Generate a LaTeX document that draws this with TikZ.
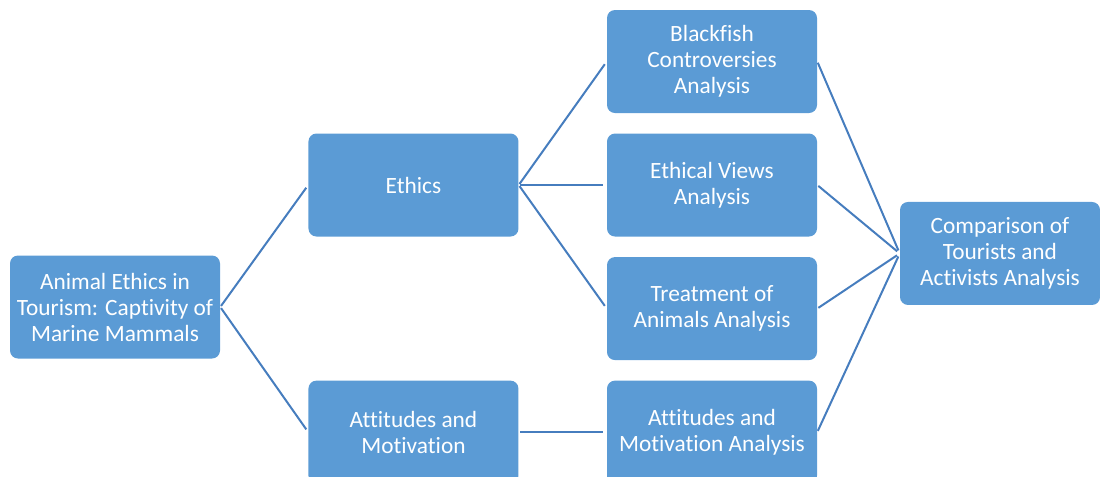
\documentclass[tikz,border=0pt]{standalone}
\usepackage{fontspec}
\setmainfont{Carlito}[Ligatures=NoCommon]
\usepackage{tikz}
\usetikzlibrary{positioning}
\definecolor{boxblue}{RGB}{91,155,213}
\definecolor{lineblue}{RGB}{70,125,190}
\tikzset{
  topicbox/.style={fill=boxblue, rounded corners=6pt, text=white,
    minimum width=157.5pt, minimum height=77.25pt,
    align=center, inner sep=0pt,
    font=\fontsize{17.5}{19.5}\selectfont},
  link/.style={draw=lineblue, line width=1.5pt,
    shorten <=1pt, shorten >=2.5pt},
}

\begin{document}
\begin{tikzpicture}[node distance=15pt and 66pt]
  \useasboundingbox (0,0) rectangle (825pt,-357pt);

  % Analysis column
  \node[topicbox] (black) at (534pt,-46.125pt)
    {Blackfish\\Controversies\\Analysis};
  \node[topicbox, below=of black] (views) {Ethical Views\\Analysis};
  \node[topicbox, below=of views] (treat) {Treatment of\\Animals Analysis};
  \node[topicbox, below=of treat] (attan) {Attitudes and\\Motivation Analysis};

  % Themes
  \node[topicbox, left=of views] (ethics) {Ethics};
  \node[topicbox, left=of attan] (attit) {Attitudes and\\Motivation};

  % Topic and comparison
  \node[topicbox] (root) at (86.25pt,-230.25pt)
    {Animal Ethics in\\Tourism: Captivity of\\Marine Mammals};
  \node[topicbox, minimum width=150pt] (comp) at (750pt,-190.1pt)
    {Comparison of\\Tourists and\\Activists Analysis};

  % Links
  \draw[link] (root.east) -- (ethics.west);
  \draw[link] (root.east) -- (attit.west);
  \draw[link] (ethics.east) -- (black.west);
  \draw[link] (ethics.east) -- (views.west);
  \draw[link] (ethics.east) -- (treat.west);
  \draw[link] (attit.east) -- (attan.west);
  \draw[link] (black.east) -- (comp.west);
  \draw[link] (views.east) -- (comp.west);
  \draw[link] (treat.east) -- (comp.west);
  \draw[link] (attan.east) -- (comp.west);
\end{tikzpicture}
\end{document}
